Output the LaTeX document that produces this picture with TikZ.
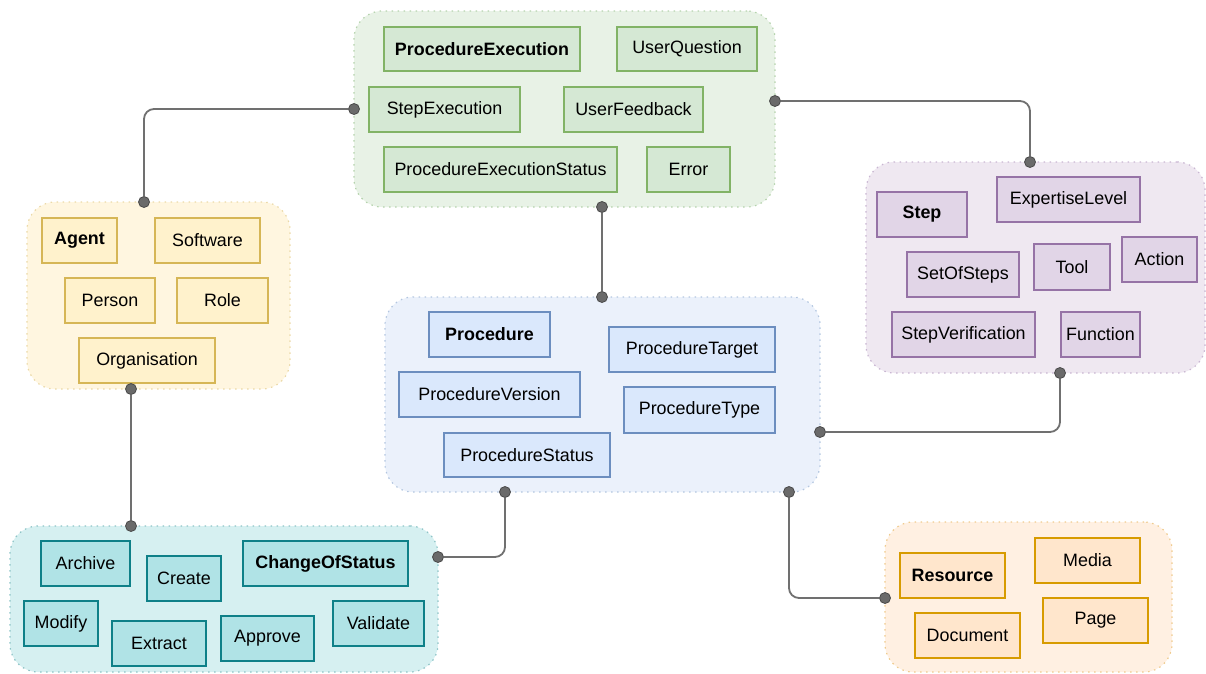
\documentclass[tikz,border=0pt]{standalone}
\usepackage{fontspec}
\setmainfont{Liberation Sans}
\usetikzlibrary{calc}
\definecolor{gfill}{HTML}{D5E8D4}\definecolor{gdraw}{HTML}{82B366}\definecolor{ggrp}{HTML}{E8F2E6}\definecolor{ggb}{HTML}{B5D3AD}
\definecolor{yfill}{HTML}{FFF2CC}\definecolor{ydraw}{HTML}{D6B656}\definecolor{ygrp}{HTML}{FFF6E0}\definecolor{ygb}{HTML}{EBD9A8}
\definecolor{pfill}{HTML}{E1D5E7}\definecolor{pdraw}{HTML}{9673A6}\definecolor{pgrp}{HTML}{EFE8F1}\definecolor{pgb}{HTML}{C9B6D2}
\definecolor{bfill}{HTML}{DAE8FC}\definecolor{bdraw}{HTML}{6C8EBF}\definecolor{bgrp}{HTML}{EBF1FB}\definecolor{bgb}{HTML}{B3C6E0}
\definecolor{tfill}{HTML}{B0E3E6}\definecolor{tdraw}{HTML}{0E8088}\definecolor{tgrp}{HTML}{D6F0F1}\definecolor{tgb}{HTML}{8EC4C7}
\definecolor{ofill}{HTML}{FFE6CC}\definecolor{odraw}{HTML}{D79B00}\definecolor{ogrp}{HTML}{FFF0E2}\definecolor{ogb}{HTML}{EFCB8E}
\definecolor{dotfill}{HTML}{6A6A6A}\definecolor{dotdraw}{HTML}{4A4A4A}\definecolor{conncol}{HTML}{707070}
\tikzset{
  box/.style={draw, line width=1.3pt, inner sep=0pt, text=black, font=\fontsize{17.9}{21}\selectfont},
  gbox/.style={box, fill=gfill, draw=gdraw},
  ybox/.style={box, fill=yfill, draw=ydraw},
  pbox/.style={box, fill=pfill, draw=pdraw},
  bbox/.style={box, fill=bfill, draw=bdraw},
  tbox/.style={box, fill=tfill, draw=tdraw},
  obox/.style={box, fill=ofill, draw=odraw},
  grp/.style={draw, line width=1.2pt, dash pattern=on 1.5pt off 4.5pt, rounded corners=28pt, inner sep=0pt},
  ggroup/.style={grp, fill=ggrp, draw=ggb},
  ygroup/.style={grp, fill=ygrp, draw=ygb},
  pgroup/.style={grp, fill=pgrp, draw=pgb},
  bgroup/.style={grp, fill=bgrp, draw=bgb},
  tgroup/.style={grp, fill=tgrp, draw=tgb},
  ogroup/.style={grp, fill=ogrp, draw=ogb},
  cdot/.style={circle, fill=dotfill, draw=dotdraw, line width=0.8pt, minimum size=11pt, inner sep=0pt},
  conn/.style={draw=conncol, line width=1.8pt, rounded corners=10pt},
}
\newcommand{\bx}[7]{\node[#2, minimum width={(#5-#3)*1pt}, minimum height={(#6-#4)*1pt}] (#1) at ({(#3+#5)/2},{(#4+#6)/2}) {#7};}
\begin{document}
\begin{tikzpicture}[x=1pt,y=-1pt]
\useasboundingbox (0,0) rectangle (1206,673);
% groups
\bx{gexec}{ggroup}{354}{11}{775}{207}{}
\bx{gagent}{ygroup}{27}{202}{290}{389}{}
\bx{gstep}{pgroup}{866}{162}{1205}{373}{}
\bx{gproc}{bgroup}{385}{297}{820}{492}{}
\bx{gstat}{tgroup}{10}{526}{438}{672}{}
\bx{gres}{ogroup}{885}{522}{1172}{672}{}
% execution
\bx{pe}{gbox}{384}{27}{580}{71}{\textbf{ProcedureExecution}}
\bx{uq}{gbox}{617}{27}{757}{71}{UserQuestion}
\bx{se}{gbox}{369}{87}{520}{132}{StepExecution}
\bx{uf}{gbox}{564}{87}{703}{132}{UserFeedback}
\bx{pes}{gbox}{384}{147}{617}{192}{ProcedureExecutionStatus}
\bx{err}{gbox}{647}{147}{730}{192}{Error}
% agent
\bx{ag}{ybox}{42}{218}{117}{263}{\textbf{Agent}}
\bx{sw}{ybox}{155}{218}{260}{263}{Software}
\bx{pr}{ybox}{65}{278}{155}{323}{Person}
\bx{ro}{ybox}{177}{278}{268}{323}{Role}
\bx{org}{ybox}{79}{338}{215}{383}{Organisation}
% step
\bx{st}{pbox}{877}{192}{967}{237}{\textbf{Step}}
\bx{el}{pbox}{997}{177}{1140}{222}{ExpertiseLevel}
\bx{sos}{pbox}{907}{252}{1019}{297}{SetOfSteps}
\bx{tl}{pbox}{1034}{244}{1110}{290}{Tool}
\bx{ac}{pbox}{1122}{237}{1197}{282}{Action}
\bx{sv}{pbox}{892}{312}{1035}{357}{StepVerification}
\bx{fn}{pbox}{1061}{312}{1140}{357}{Function}
% procedure
\bx{p}{bbox}{429}{312}{550}{357}{\textbf{Procedure}}
\bx{pt}{bbox}{609}{327}{775}{372}{ProcedureTarget}
\bx{pv}{bbox}{399}{372}{580}{417}{ProcedureVersion}
\bx{pty}{bbox}{624}{387}{775}{433}{ProcedureType}
\bx{ps}{bbox}{444}{433}{610}{477}{ProcedureStatus}
% change of status
\bx{arc}{tbox}{41}{541}{130}{586}{Archive}
\bx{cr}{tbox}{147}{556}{221}{601}{Create}
\bx{cos}{tbox}{243}{541}{408}{586}{\textbf{ChangeOfStatus}}
\bx{mo}{tbox}{24}{601}{98}{646}{Modify}
\bx{ex}{tbox}{112}{621}{206}{666}{Extract}
\bx{ap}{tbox}{221}{616}{314}{661}{Approve}
\bx{va}{tbox}{333}{601}{424}{646}{Validate}
% resource
\bx{rs}{obox}{900}{553}{1005}{598}{\textbf{Resource}}
\bx{me}{obox}{1035}{538}{1140}{583}{Media}
\bx{doc}{obox}{915}{613}{1020}{658}{Document}
\bx{pg}{obox}{1043}{598}{1148}{643}{Page}
% connection points
\node[cdot] (dgw) at (354,109) {};
\node[cdot] (dge) at (775,101) {};
\node[cdot] (dgs) at (602,207) {};
\node[cdot] (dan) at (144,202) {};
\node[cdot] (das) at (131,389) {};
\node[cdot] (dsn) at (1030,162) {};
\node[cdot] (dss) at (1060,373) {};
\node[cdot] (dpn) at (602,297) {};
\node[cdot] (dpe) at (820,432) {};
\node[cdot] (dpsl) at (505,492) {};
\node[cdot] (dpsr) at (789,492) {};
\node[cdot] (dcn) at (131,526) {};
\node[cdot] (dce) at (438,557) {};
\node[cdot] (drw) at (885,598) {};
% connectors
\draw[conn] (dgw) -| (dan);
\draw[conn] (dge) -| (dsn);
\draw[conn] (dgs) -- (dpn);
\draw[conn] (das) -- (dcn);
\draw[conn] (dpsl) |- (dce);
\draw[conn] (dpe) -| (dss);
\draw[conn] (dpsr) |- (drw);
\end{tikzpicture}
\end{document}
